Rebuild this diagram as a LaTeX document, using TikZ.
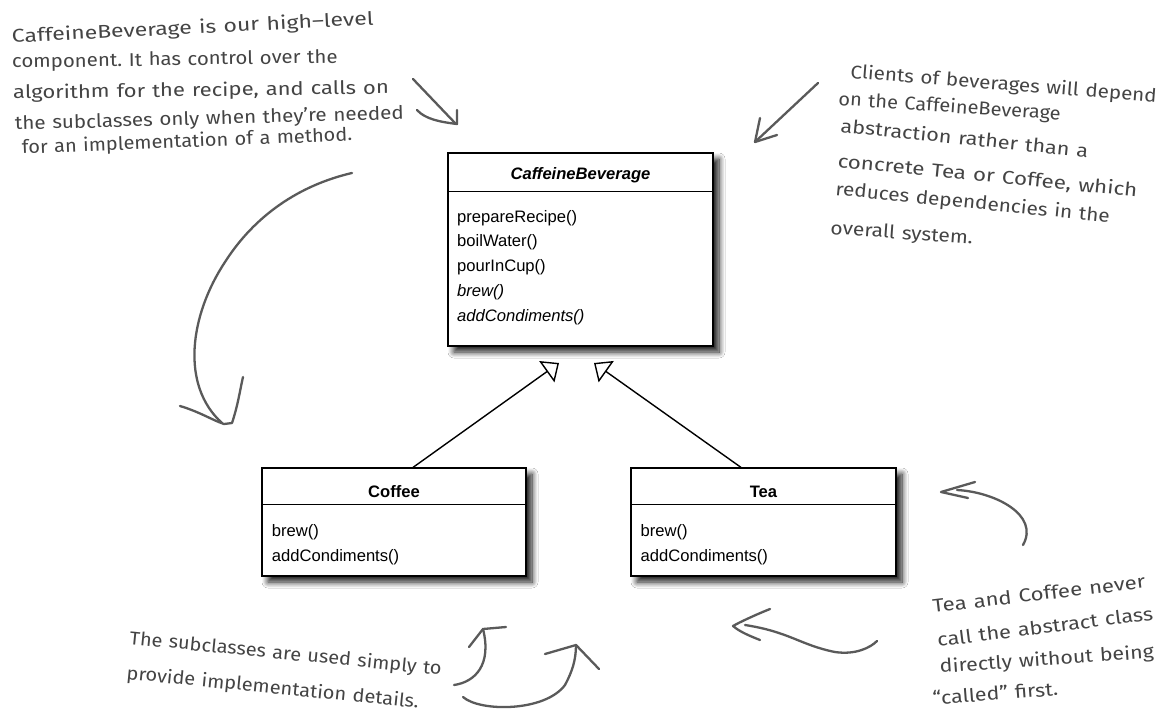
\documentclass[tikz,border=0pt]{standalone}
\usepackage{fontspec}
\setmainfont{Liberation Sans}
\newfontfamily\handfont{Fira Sans}
\usetikzlibrary{arrows.meta,shadows.blur,calc}
\definecolor{ink}{HTML}{444444}
\definecolor{pen}{HTML}{5A5A5A}
\newcommand{\noteline}[6][1]{%
  \begin{scope}[shift={(#3)}, rotate=#4, xscale=1.081*#1, transform shape]
    \node[note] (#2-1) at (0,0) {#5};
    \foreach \w [count=\i from 2, remember=\i as \j (initially 1)] in {#6} {
      \node[note] (#2-\i) at ($(#2-\j.base east)!-5.5pt!(#2-\j.base west)$) {\w};
    }
  \end{scope}}
\begin{document}
\begin{tikzpicture}[x=1pt,y=-1pt,
  umlbox/.style={draw, line width=1.2pt, fill=white, inner sep=0pt,
    blur shadow={shadow xshift=6pt, shadow yshift=-6pt, shadow blur radius=6pt, shadow blur steps=10, shadow opacity=90}},
  umltext/.style={inner sep=0pt, font=\fontsize{16.6}{20}\selectfont},
  note/.style={inner sep=0pt, text=ink, font=\handfont\fontsize{18.5}{21}\selectfont, anchor=base west},
  handline/.style={draw=pen, line width=2.3pt, line cap=round, line join=round},
  inherit/.style={draw, line width=1.4pt, -{Triangle[open, length=15pt, width=26pt]}}]

\fill[white] (0,0) rectangle (1161,712);
\useasboundingbox (0,0) rectangle (1161,712);

% ---------- CaffeineBeverage ----------
\node[umlbox, minimum width=265pt, minimum height=193pt] (cb) at (580.5,249.5) {};
\draw[line width=1.2pt] ([yshift=-39pt]cb.north west) -- ([yshift=-39pt]cb.north east);
\node[umltext, anchor=base] (cbname) at (580.5,179) {\bfseries\itshape CaffeineBeverage};
\node[umltext, anchor=base west] (cbm1) at (457,222) {prepareRecipe()};
\node[umltext, anchor=base west] (cbm2) at (457,246.75) {boilWater()};
\node[umltext, anchor=base west] (cbm3) at (457,271.5) {pourInCup()};
\node[umltext, anchor=base west] (cbm4) at (457,296.25) {\itshape brew()};
\node[umltext, anchor=base west] (cbm5) at (457,321) {\itshape addCondiments()};

% ---------- Coffee ----------
\node[umlbox, minimum width=264pt, minimum height=108pt] (coffee) at (394,522) {};
\draw[line width=1.2pt] ([yshift=-37pt]coffee.north west) -- ([yshift=-37pt]coffee.north east);
\node[umltext, anchor=base] (coffeename) at (394,497) {\bfseries Coffee};
\node[umltext, anchor=base west] (cfm1) at (271.7,536.5) {brew()};
\node[umltext, anchor=base west] (cfm2) at (271.7,561.5) {addCondiments()};

% ---------- Tea ----------
\node[umlbox, minimum width=265pt, minimum height=108pt] (tea) at (763.5,522) {};
\draw[line width=1.2pt] ([yshift=-37pt]tea.north west) -- ([yshift=-37pt]tea.north east);
\node[umltext, anchor=base] (teaname) at (763.5,497) {\bfseries Tea};
\node[umltext, anchor=base west] (tem1) at (640.5,536.5) {brew()};
\node[umltext, anchor=base west] (tem2) at (640.5,561.5) {addCondiments()};

% ---------- inheritance ----------
\coordinate (tipL) at (559,363);
\coordinate (tipR) at (594,363);
\draw[inherit] ([xshift=19pt]coffee.north) -- (tipL);
\draw[inherit] ([xshift=-22.5pt]tea.north) -- (tipR);

% ---------- notes: top left ----------
\noteline[1.15]{tl1}{12,43}{2.9}{CaffeineBeverage}{is,our,high–level}
\noteline[1.02]{tl2}{12,68}{0.9}{component.\ }{It,has,control,over,the}
\noteline[1.10]{tl3}{13,99}{0.8}{algorithm}{for,the,{recipe,},and,calls,on}
\noteline[1.03]{tl4}{15,130}{1.6}{the}{subclasses,only,when,they’re,needed}
\noteline[1.0]{tl5}{22,154}{2.3}{for}{an,implementation,of,a,method.}

% ---------- notes: top right ----------
\noteline[1.03]{tr1}{850,78}{-4.5}{Clients}{of,beverages,will,depend}
\noteline[1.0]{tr2}{838,105}{-3.9}{on}{the,CaffeineBeverage}
\noteline[1.08]{tr3}{840,132}{-5.9}{abstraction}{rather,than,a}
\noteline[1.12]{tr4}{837,167}{-5.7}{concrete}{Tea,or,{Coffee,},which}
\noteline[1.04]{tr5}{835,195}{-5.7}{reduces}{dependencies,in,the}
\noteline[1.05]{tr6}{830,234}{-4.1}{overall}{system.}

% ---------- notes: bottom left ----------
\noteline[1.0]{bl1}{129,644}{-5.7}{The}{subclasses,are,used,simply,to}
\noteline[1.0]{bl2}{126,679}{-5.7}{provide}{implementation,details.}

% ---------- notes: bottom right ----------
\noteline[1.11]{br1}{933,613}{6.7}{Tea}{and,Coffee,never}
\noteline[1.09]{br2}{938,647}{7.2}{call}{the,abstract,class}
\noteline[1.07]{br3}{940,673}{4.0}{directly}{without,being}
\noteline[1.07]{br4}{933,705}{4.3}{“called”}{first.}

% ---------- hand-drawn arrows ----------
% top-left small arrow
\draw[handline] (413,79) -- (455,123);
\draw[handline] (417,110) .. controls (425,119) and (440,122) .. (457,124) -- (457,110);
% top-right arrow
\draw[handline] (818,83) -- (755,142);
\draw[handline] (777,135) -- (755,142) -- (760,118);
% big left curve
\draw[handline] (352,173) .. controls (300,185) and (255,215) .. (225,262)
  .. controls (190,315) and (180,385) .. (222,423);
\draw[handline] (180,406) .. controls (200,412) and (212,420) .. (224,424) -- (232,423)
  .. controls (238,405) and (240,390) .. (243,377);
% right of Tea
\draw[handline] (975,482) -- (941,492) -- (968,498);
\draw[handline] (957,490) .. controls (995,492) and (1040,515) .. (1023,545);
% below Tea
\draw[handline] (770,609) .. controls (755,615) and (740,622) .. (733,626)
  .. controls (740,632) and (750,636) .. (760,640);
\draw[handline] (745,625) .. controls (790,632) and (800,645) .. (835,652)
  .. controls (855,655) and (870,648) .. (877,641);
% small hook arrow
\draw[handline] (454,685) .. controls (475,682) and (492,665) .. (483,629);
\draw[handline] (469,647) -- (483,629) -- (506,627);
% bottom big arrow
\draw[handline] (463,697) .. controls (480,712) and (545,712) .. (565,685)
  .. controls (572,672) and (576,660) .. (576,645);
\draw[handline] (545,654) -- (576,645) -- (599,669);
\end{tikzpicture}
\end{document}
